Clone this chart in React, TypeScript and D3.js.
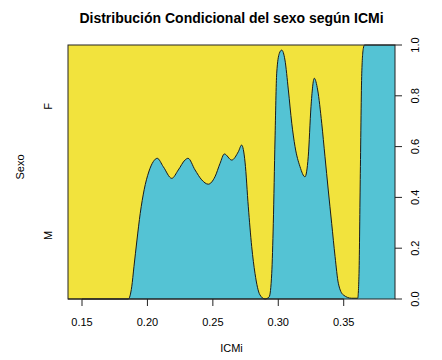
import React from "react";
import * as d3 from "d3";

const icmi = [0.1393,0.1790,0.1854,0.1880,0.1897,0.1920,0.1945,0.1975,0.2010,0.2045,0.2075,0.2121,0.2186,0.2236,0.2287,0.2310,0.2364,0.2415,0.2465,0.2516,0.2555,0.2588,0.2644,0.2695,0.2720,0.2746,0.2771,0.2797,0.2822,0.2860,0.2899,0.2931,0.2950,0.2962,0.2975,0.2988,0.3008,0.3026,0.3051,0.3077,0.3103,0.3128,0.3166,0.3204,0.3229,0.3250,0.3275,0.3301,0.3332,0.3357,0.3382,0.3408,0.3434,0.3459,0.3497,0.3561,0.3607,0.3617,0.3627,0.3638,0.3650,0.3659,0.3892];
const propM = [0,0,0,0.048,0.127,0.232,0.337,0.430,0.500,0.541,0.554,0.521,0.475,0.508,0.547,0.554,0.508,0.469,0.452,0.481,0.534,0.571,0.547,0.580,0.606,0.539,0.363,0.206,0.101,0.016,0,0.009,0.101,0.298,0.626,0.889,0.967,0.980,0.941,0.823,0.692,0.600,0.521,0.481,0.560,0.757,0.869,0.823,0.692,0.560,0.429,0.298,0.167,0.062,0.016,0.003,0.003,0.101,0.495,0.889,0.987,1,1];
const xTicks = [0.15, 0.2, 0.25, 0.3, 0.35];
const yTicks = [0, 0.2, 0.4, 0.6, 0.8, 1.0];
const levels = ["M", "F"];
const levelPos = [0.25, 0.75];

const W = 442, H = 360;
const L = 68, R = 395, T = 45, B = 299;
const YELLOW = "#F2E33D";
const TEAL = "#54C3D4";
const FONT = "'Liberation Sans', Arial, Helvetica, sans-serif";

export default function App() {
  const x = d3.scaleLinear().domain([d3.min(icmi)!, d3.max(icmi)!]).range([L, R]);
  const y = d3.scaleLinear().domain([0, 1]).range([B, T]);
  const pts: [number, number][] = icmi.map((v, i) => [v, propM[i]]);
  const areaLow = d3.area<[number, number]>()
    .x(d => x(d[0])).y0(y(0)).y1(d => y(Math.max(0, Math.min(1, d[1]))))
    .curve(d3.curveMonotoneX);
  const line = d3.line<[number, number]>()
    .x(d => x(d[0])).y(d => y(d[1]))
    .curve(d3.curveMonotoneX);
  return (
    <svg width={W} height={H} style={{ position: "absolute", left: 0, top: 0, display: "block" }} fontFamily={FONT}>
      <rect x={0} y={0} width={W} height={H} fill="#fff" />
      <text x={(L + R) / 2} y={23} textAnchor="middle" fontWeight="bold" fontSize={14}>
        Distribución Condicional del sexo según ICMi
      </text>
      <rect x={L} y={T} width={R - L} height={B - T} fill={YELLOW} />
      <path d={areaLow(pts) || ""} fill={TEAL} />
      <path d={line(pts) || ""} fill="none" stroke="#1b1b1b" strokeWidth={1} />
      <rect x={L} y={T} width={R - L} height={B - T} fill="none" stroke="#222" strokeWidth={1} />
      {/* bottom axis */}
      <line x1={x(xTicks[0])} x2={x(xTicks[xTicks.length - 1])} y1={B} y2={B} stroke="#222" />
      {xTicks.map(t => (
        <g key={t}>
          <line x1={x(t)} x2={x(t)} y1={B} y2={B + 7} stroke="#222" />
          <text x={x(t)} y={326} textAnchor="middle" fontSize={11}>{t.toFixed(2)}</text>
        </g>
      ))}
      <text x={(L + R) / 2} y={352} textAnchor="middle" fontSize={11}>ICMi</text>
      {/* right axis */}
      {yTicks.map(t => (
        <g key={t}>
          <line x1={R} x2={R + 7} y1={y(t)} y2={y(t)} stroke="#222" />
          <text transform={`translate(419,${y(t)}) rotate(-90)`} textAnchor="middle" fontSize={11}>{t.toFixed(1)}</text>
        </g>
      ))}
      {/* left labels */}
      {levels.map((lv, i) => (
        <text key={lv} transform={`translate(52,${y(levelPos[i]) + (lv === "F" ? -2 : 0)}) rotate(-90)`} textAnchor="middle" fontSize={11}>{lv}</text>
      ))}
      <text transform={`translate(24,167) rotate(-90)`} textAnchor="middle" fontSize={11}>Sexo</text>
    </svg>
  );
}
